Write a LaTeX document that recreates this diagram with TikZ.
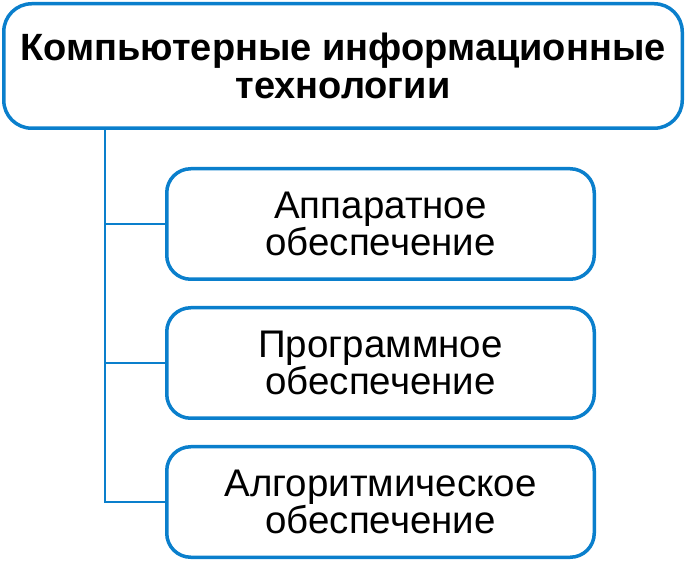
\documentclass[tikz,border=0pt]{standalone}
\usepackage{fontspec}
\setmainfont{Liberation Sans}
\usetikzlibrary{positioning}
\definecolor{boxblue}{HTML}{0A7FCC}

\begin{document}
\begin{tikzpicture}[x=1pt,y=-1pt]
  \tikzstyle{rootbox}=[draw=boxblue,line width=3.5pt,rounded corners=28pt,minimum width=678.5pt,minimum height=124.5pt,align=center,font=\fontsize{38}{38}\selectfont\bfseries]
  \tikzstyle{leafbox}=[draw=boxblue,line width=3.5pt,rounded corners=24pt,minimum width=427.5pt,minimum height=110.5pt,align=center,font=\fontsize{38.5}{36.5}\selectfont]
  \tikzstyle{branch}=[draw=boxblue,line width=2.8pt]
  \def\boxsep{25pt}

  \useasboundingbox (0,0) rectangle (686,561);

  \node [rootbox] (root) at (343,66) {Компьютерные информационные\\технологии};
  \node [leafbox] (hw) at (380.5,224) {Аппаратное\\обеспечение};
  \node [leafbox,below=\boxsep of hw] (sw) {Программное\\обеспечение};
  \node [leafbox,below=\boxsep of sw] (alg) {Алгоритмическое\\обеспечение};
  \coordinate (trunk) at (105,0);

  \path [branch] (root.south -| trunk) |- (alg.west);
  \path [branch] (hw.west) -- (hw.west -| trunk);
  \path [branch] (sw.west) -- (sw.west -| trunk);
\end{tikzpicture}
\end{document}
